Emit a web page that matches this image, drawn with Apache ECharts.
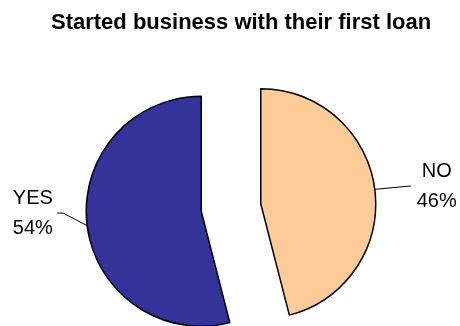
<!DOCTYPE html>
<html>
<head>
<meta charset="utf-8">
<script src="https://cdn.jsdelivr.net/npm/echarts@6/dist/echarts.min.js"></script>
<style>
  html, body { margin: 0; padding: 0; background: #ffffff; }
  #chart { width: 460px; height: 326px; }
</style>
</head>
<body>
<div id="chart"></div>
<script>
// Survey answers: did they start the business with their first loan?
const chartTitle = 'Started business with their first loan';
const categories = ['NO', 'YES'];
const values = [46, 54];
const sliceColors = ['#FFCC99', '#333399'];

// Per-slice label tweaks: horizontal padding pushes each label beside its leader line;
// the YES label carries an empty third line so its text sits higher than the line end.
const labelTweaks = {
  NO: { padding: [0, 0, 0, 54], formatter: '{b}\n{d}%' },
  YES: { padding: [0, 39, 0, 0], formatter: '{b}\n{d}%\n' }
};

const chart = echarts.init(document.getElementById('chart'), null, { renderer: 'canvas' });

const pieData = categories.map((name, i) => ({
  name: name,
  value: values[i],
  selected: true,
  itemStyle: { color: sliceColors[i] },
  label: labelTweaks[name]
}));

chart.setOption({
  animation: false,
  backgroundColor: '#ffffff',
  title: {
    text: chartTitle,
    left: 51,
    top: 12,
    padding: 0,
    textStyle: {
      fontFamily: 'Liberation Sans, Arial, sans-serif',
      fontSize: 22,
      fontWeight: 'bold',
      color: '#000000'
    }
  },
  series: [{
    type: 'pie',
    center: [231, 207.5],
    radius: [0, 115],
    startAngle: 90,
    clockwise: true,
    selectedMode: 'multiple',
    selectedOffset: 30,
    avoidLabelOverlap: false,
    data: pieData,
    itemStyle: { borderColor: '#000000', borderWidth: 1.5 },
    emphasis: { disabled: true },
    label: {
      show: true,
      position: 'outside',
      formatter: '{b}\n{d}%',
      fontFamily: 'Liberation Sans, Arial, sans-serif',
      fontSize: 20,
      lineHeight: 30,
      color: '#000000'
    },
    labelLine: {
      show: true,
      length: 20,
      length2: 10,
      lineStyle: { color: '#000000', width: 1 }
    },
    // Leader lines: NO runs straight out to the right, YES bends up to a short horizontal tail
    labelLayout: function (p) {
      const pts = p.labelLinePoints;
      if (!pts) return {};
      const s = pts[0];
      const line = p.dataIndex === 0
        ? [s, [s[0] + 18, s[1] - 1.7], [s[0] + 36, s[1] - 3.4]]
        : [s, [s[0] - 24, s[1] - 12.6], [s[0] - 30, s[1] - 12.6]];
      return { align: 'center', verticalAlign: 'middle', labelLinePoints: line };
    }
  }]
});
</script>
</body>
</html>
